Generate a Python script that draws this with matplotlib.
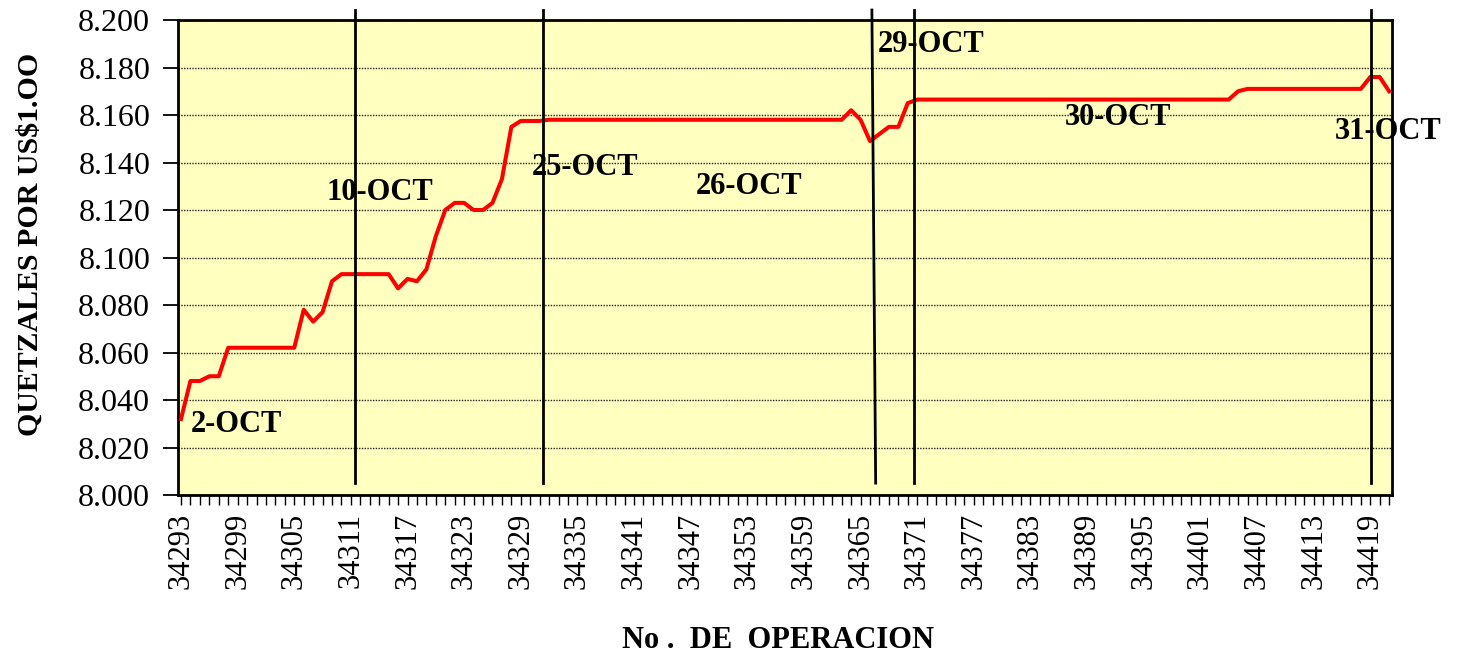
import numpy as np
import matplotlib
matplotlib.use("Agg")
from matplotlib import pyplot as plt
from matplotlib.ticker import MultipleLocator, FixedLocator

plt.rcParams['font.family'] = ['Liberation Serif', 'DejaVu Serif']

# operation numbers and exchange rate (quetzales per US$1.00)
first_op = 34293
rate = [
    8.032, 8.048, 8.048, 8.050, 8.050, 8.062, 8.062, 8.062, 8.062, 8.062,
    8.062, 8.062, 8.062, 8.078, 8.073, 8.077, 8.090, 8.093, 8.093, 8.093,
    8.093, 8.093, 8.093, 8.087, 8.091, 8.090, 8.095, 8.109, 8.120, 8.123,
    8.123, 8.120, 8.120, 8.123, 8.133, 8.155, 8.1575, 8.1575, 8.1575, 8.158,
    8.158, 8.158, 8.158, 8.158, 8.158, 8.158, 8.158, 8.158, 8.158, 8.158,
    8.158, 8.158, 8.158, 8.158, 8.158, 8.158, 8.158, 8.158, 8.158, 8.158,
    8.158, 8.158, 8.158, 8.158, 8.158, 8.158, 8.158, 8.158, 8.158, 8.158,
    8.158, 8.162, 8.158, 8.149, 8.152, 8.155, 8.155, 8.165, 8.1665, 8.1665,
    8.1665, 8.1665, 8.1665, 8.1665, 8.1665, 8.1665, 8.1665, 8.1665, 8.1665, 8.1665,
    8.1665, 8.1665, 8.1665, 8.1665, 8.1665, 8.1665, 8.1665, 8.1665, 8.1665, 8.1665,
    8.1665, 8.1665, 8.1665, 8.1665, 8.1665, 8.1665, 8.1665, 8.1665, 8.1665, 8.1665,
    8.1665, 8.1665, 8.170, 8.171, 8.171, 8.171, 8.171, 8.171, 8.171, 8.171,
    8.171, 8.171, 8.171, 8.171, 8.171, 8.171, 8.176, 8.176, 8.170,
]
ops = np.arange(first_op, first_op + len(rate))

# day separators (op number at top / bottom of the drawn line)
sep_top = [34311.4, 34331.4, 34366.2, 34370.7, 34419.1]
sep_bottom = [34311.4, 34331.4, 34366.6, 34370.7, 34419.1]

day_labels = ['2-OCT', '10-OCT', '25-OCT', '26-OCT', '29-OCT', '30-OCT', '31-OCT']
day_x = [34298.9, 34314.1, 34335.8, 34353.2, 34372.5, 34392.3, 34420.9]
day_y = [8.0295, 8.1272, 8.1377, 8.1301, 8.1895, 8.1588, 8.1529]

fig = plt.figure(figsize=(14.6, 6.58), dpi=100)
ax = fig.add_axes([0.1219, 0.2477, 0.8315, 0.7219])
ax.set_facecolor('#FFFFC0')

ax.plot(ops, rate, color='#FF0000', lw=2.9, zorder=3)

for xt, xb in zip(sep_top, sep_bottom):
    ax.plot([xt, xb], [8.2042, 8.005], color='black', lw=2.0, clip_on=False, zorder=4)

for lab, x, y in zip(day_labels, day_x, day_y):
    ax.text(x, y, lab, ha='center', va='center', fontsize=22, fontweight='bold',
            clip_on=False, zorder=5)

ax.set_ylim(8.0, 8.2)
ax.set_xlim(first_op - 0.32, first_op + 128.3)
ax.yaxis.set_major_locator(MultipleLocator(0.02))
ax.yaxis.set_major_formatter(plt.FuncFormatter(lambda v, p: f'{v:.3f}'))
ax.grid(axis='y', color='#222222', linestyle=(0, (1, 1)), lw=1.0)

ax.xaxis.set_major_locator(FixedLocator(ops[::6]))
ax.xaxis.set_minor_locator(FixedLocator(ops))
ax.set_xticklabels([str(o) for o in ops[::6]], rotation=90)

ax.tick_params(axis='y', direction='out', length=11, width=1.3, labelsize=23, pad=9)
ax.tick_params(axis='x', which='both', direction='out', length=7, width=1.0,
               labelsize=22, pad=6)
for s in ax.spines.values():
    s.set_linewidth(2.0)

fig.text(0.021, 0.628, 'QUETZALES POR US\\$1.OO', rotation=90, ha='center', va='center',
         fontsize=21.5, fontweight='bold')
fig.text(0.533, 0.027, 'No .  DE  OPERACION', ha='center', va='center',
         fontsize=22, fontweight='bold')

fig.savefig('out.png', dpi=100)
